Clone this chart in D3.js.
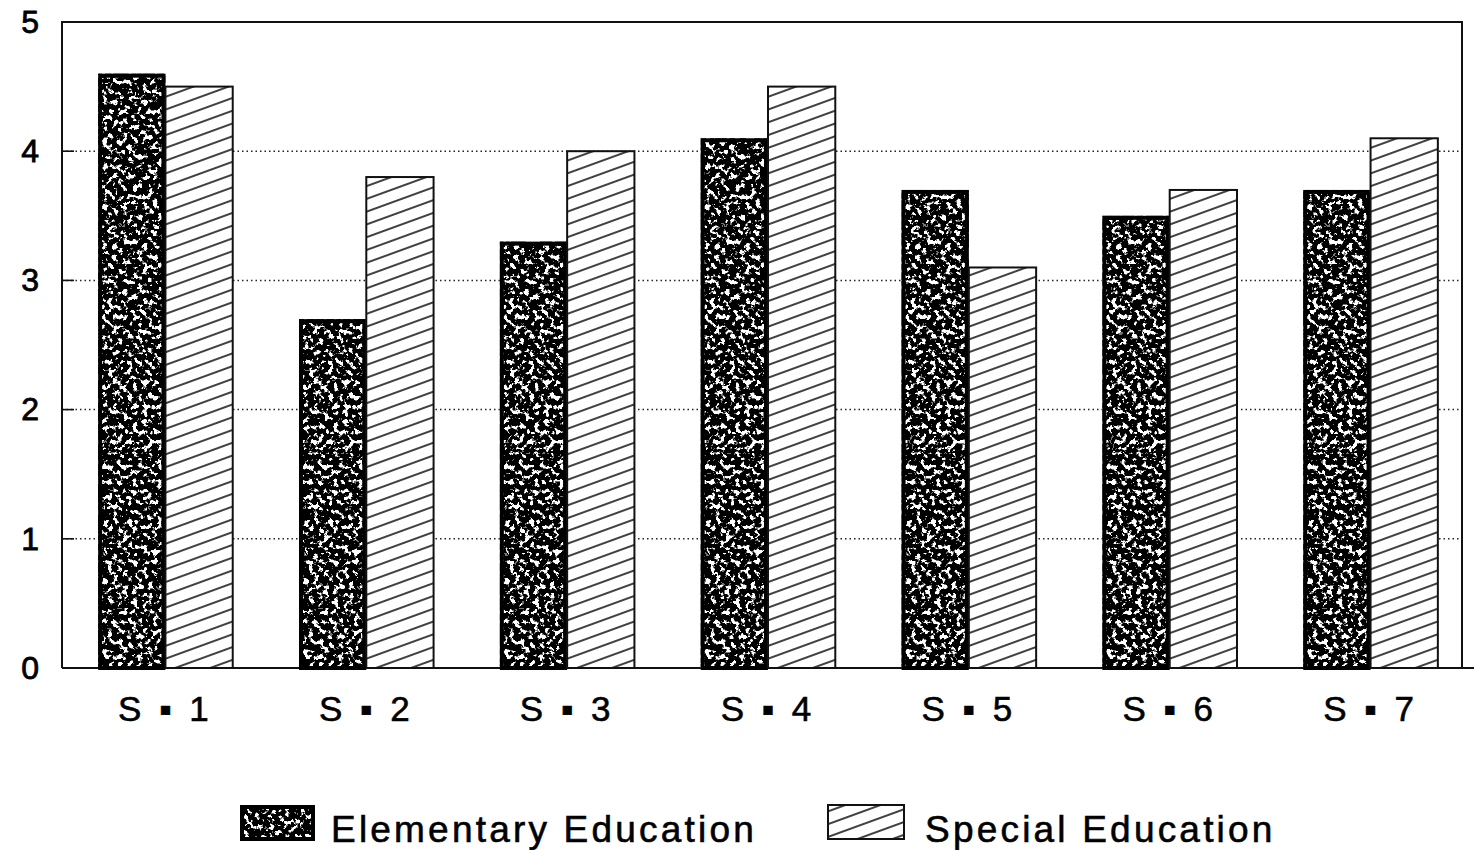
<!DOCTYPE html>
<html>
<head>
<meta charset="utf-8">
<script src="https://cdn.jsdelivr.net/npm/d3@7"></script>
<style>
  body { margin: 0; background: #fff; }
  svg { display: block; font-family: "Liberation Sans", Arial, sans-serif; }
</style>
</head>
<body>
<svg id="chart" width="1474" height="850"></svg>
<script>
// data
const categories = ["S ▪ 1", "S ▪ 2", "S ▪ 3", "S ▪ 4", "S ▪ 5", "S ▪ 6", "S ▪ 7"];
const seriesNames = ["Elementary Education", "Special Education"];
const elementary = [4.6, 2.7, 3.3, 4.1, 3.7, 3.5, 3.7];
const special = [4.5, 3.8, 4.0, 4.5, 3.1, 3.7, 4.1];
const yTicks = [0, 1, 2, 3, 4, 5];

const svg = d3.select('#chart');
const plotL = 62, plotR = 1462, plotT = 22, plotB = 668;

// patterns / textures
const defs = svg.append('defs');

// diagonal hatch for special ed
defs.append('pattern')
    .attr('id', 'hatch')
    .attr('patternUnits', 'userSpaceOnUse')
    .attr('width', 10)
    .attr('height', 12)
    .attr('patternTransform', 'rotate(-20)')
    .append('line')
    .attr('x1', 0).attr('x2', 10)
    .attr('y1', 6).attr('y2', 6)
    .attr('stroke', '#111')
    .attr('stroke-width', 1.6);

// stipple texture for elementary ed
const stip = defs.append('filter')
    .attr('id', 'stipple')
    .attr('x', 0).attr('y', 0).attr('width', 1).attr('height', 1);
stip.append('feTurbulence')
    .attr('type', 'fractalNoise')
    .attr('baseFrequency', 0.2)
    .attr('numOctaves', 3)
    .attr('seed', 7)
    .attr('result', 'noise');
stip.append('feColorMatrix')
    .attr('in', 'noise')
    .attr('type', 'matrix')
    .attr('values', '0 0 0 0 0  0 0 0 0 0  0 0 0 0 0  1 0 0 0 0')
    .attr('result', 'a');
const ct = stip.append('feComponentTransfer').attr('in', 'a').attr('result', 'th');
ct.append('feFuncA').attr('type', 'discrete')
    .attr('tableValues', '0 0 0 0 0 0 0 0 0.55 1 1 1 1 1 1 1 1 1 1 1');
stip.append('feComposite')
    .attr('in', 'th').attr('in2', 'SourceAlpha').attr('operator', 'in');

// scales
const y = d3.scaleLinear().domain([0, 5]).range([plotB, plotT]);
const x0 = d3.scaleBand().domain(categories).range([plotL, 1474])
    .paddingInner(0.33).paddingOuter(0.18);
const x1 = d3.scaleBand().domain(seriesNames).range([0, x0.bandwidth()]);

// gridlines
const grid = svg.append('g')
    .selectAll('g')
    .data(yTicks.filter(d => d > 0 && d < 5))
    .join('g');
grid.append('line')
    .attr('x1', plotL).attr('x2', plotR)
    .attr('y1', d => y(d)).attr('y2', d => y(d))
    .attr('stroke', '#222')
    .attr('stroke-width', 1.5)
    .attr('stroke-dasharray', '1.5,3');
grid.append('line')
    .attr('x1', plotL).attr('x2', plotL + 12)
    .attr('y1', d => y(d)).attr('y2', d => y(d))
    .attr('stroke', '#111')
    .attr('stroke-width', 1.6);

// frame
svg.append('path')
    .attr('d', `M${plotL},${plotB} L${plotL},${plotT} L${plotR},${plotT} L${plotR},${plotB}`)
    .attr('fill', 'none')
    .attr('stroke', '#111')
    .attr('stroke-width', 2);
svg.append('line')
    .attr('x1', plotL).attr('x2', 1474)
    .attr('y1', plotB).attr('y2', plotB)
    .attr('stroke', '#111').attr('stroke-width', 2);

// bars
const groups = svg.append('g')
    .selectAll('g')
    .data(categories.map((c, i) => ({ c, vals: [elementary[i], special[i]] })))
    .join('g')
    .attr('transform', d => `translate(${x0(d.c)},0)`);

function stippleRect(sel, x, yy, w, h) {
    sel.append('rect').attr('x', x).attr('y', yy).attr('width', w).attr('height', h).attr('fill', '#fff');
    sel.append('rect').attr('x', x).attr('y', yy).attr('width', w).attr('height', h)
        .attr('fill', '#000').attr('filter', 'url(#stipple)');
    sel.append('rect').attr('x', x + 2).attr('y', yy + 2).attr('width', w - 4).attr('height', h - 2)
        .attr('fill', 'none').attr('stroke', '#000').attr('stroke-width', 4);
}
function hatchRect(sel, x, yy, w, h) {
    sel.append('rect').attr('x', x).attr('y', yy).attr('width', w).attr('height', h).attr('fill', '#fff');
    sel.append('rect').attr('x', x).attr('y', yy).attr('width', w).attr('height', h)
        .attr('fill', 'url(#hatch)').attr('stroke', '#111').attr('stroke-width', 2);
}

groups.each(function (d) {
    const g = d3.select(this);
    stippleRect(g, x1(seriesNames[0]), y(d.vals[0]), x1.bandwidth(), y(0) - y(d.vals[0]));
    hatchRect(g, x1(seriesNames[1]), y(d.vals[1]), x1.bandwidth(), y(0) - y(d.vals[1]));
});

// axes
const yAxis = svg.append('g')
    .attr('transform', `translate(${plotL},0)`)
    .call(d3.axisLeft(y).tickValues(yTicks).tickSize(0).tickPadding(23).tickFormat(d3.format('d')));
yAxis.select('.domain').remove();
yAxis.selectAll('text').attr('font-size', 32).attr('fill', '#000')
    .attr('stroke', '#000').attr('stroke-width', 0.8)
    .attr('font-family', '"Liberation Sans", Arial, sans-serif');

const xAxis = svg.append('g')
    .attr('transform', `translate(0,${plotB})`)
    .call(d3.axisBottom(x0).tickSize(0).tickPadding(28));
xAxis.select('.domain').remove();
xAxis.selectAll('text').attr('font-size', 35).attr('fill', '#000')
    .attr('stroke', '#000').attr('stroke-width', 0.6)
    .attr('font-family', '"Liberation Sans", Arial, sans-serif')
    .style('letter-spacing', '4px');

// legend
const legend = svg.append('g');
const legendX = [240, 828];
seriesNames.forEach((name, i) => {
    const g = legend.append('g').attr('transform', `translate(${legendX[i]},805)`);
    if (i === 0) stippleRect(g, 0, 0, 75, 34);
    else hatchRect(g, 0, 0, 76, 34);
    g.append('text')
        .attr('x', i === 0 ? 91 : 97)
        .attr('y', 37)
        .attr('font-size', 37)
        .attr('stroke', '#000').attr('stroke-width', 0.6)
        .style('letter-spacing', '3.2px')
        .text(name);
});
</script>
</body>
</html>
